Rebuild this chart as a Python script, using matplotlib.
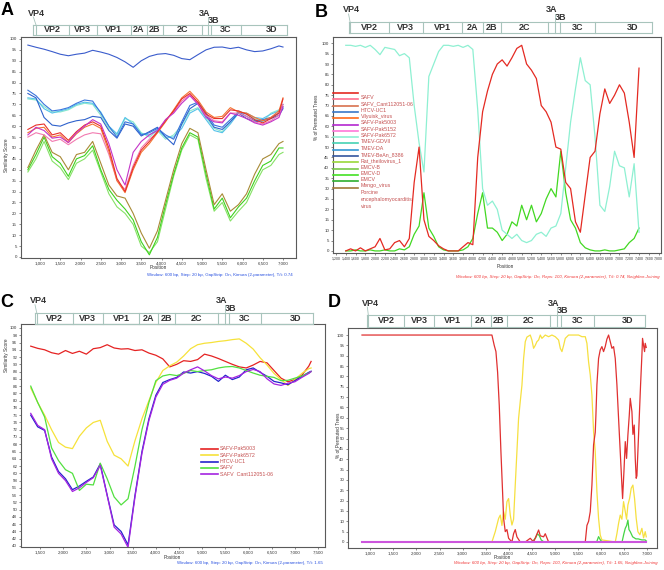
import matplotlib
matplotlib.use('Agg')
import matplotlib.pyplot as plt
from matplotlib import transforms
from matplotlib.lines import Line2D

plt.rcParams['font.family'] = ['Liberation Sans', 'DejaVu Sans']

W, H = 664, 570

# genome map (boundaries in bp along each panel's own x axis)
genes = ['VP4', 'VP2', 'VP3', 'VP1', '2A', '2B', '2C', '3A', '3B', '3C', '3D']
mapA = [835, 901, 1716, 2400, 3247, 3635, 4030, 4993, 5156, 5215, 5956, 7106]
mapB = [1457, 1489, 2279, 2975, 3785, 4202, 4574, 5537, 5673, 5774, 6497, 7663]
mapC = [1392, 1429, 2206, 2853, 3643, 4053, 4414, 5348, 5493, 5586, 6264, 7399]
mapD = [936, 957, 1723, 2388, 3174, 3603, 3961, 4891, 5034, 5120, 5835, 6944]

# ---- A: similarity plot, query vs all strains
posA = [700, 900, 1100, 1300, 1500, 1700, 1900, 2100, 2300, 2500, 2700, 2900, 3100,
        3300, 3500, 3700, 3900, 4100, 4300, 4500, 4700, 4900, 5100, 5300, 5500,
        5700, 5900, 6100, 6300, 6500, 6700, 6900, 7000]
A_top = [97.2, 96.2, 95.3, 94.2, 93, 92.3, 93, 93.5, 94.8, 94, 93, 91.5, 89.5, 87, 90, 92, 93,
         93.3, 92.5, 91, 90.5, 92.8, 95, 96.2, 96.3, 95.6, 96.2, 95, 94.2, 94.5, 95.5, 96.8, 96.3]
A_blue1 = [76.5, 74, 70, 67, 67.5, 68.5, 70.5, 72, 71.5, 66, 60, 55, 62, 61, 56, 57, 59,
           56, 54, 62, 69.5, 71, 66, 60.5, 59.5, 63, 66.5, 64.5, 62.5, 63, 64, 66, 70]
A_cyan1 = [72.5, 72, 69, 66.5, 66.5, 67.5, 69.5, 70.5, 70, 65, 59, 56, 63.5, 62, 57, 55, 58,
           54, 56, 60.5, 67, 68.5, 64, 59, 57.5, 62, 67, 65.5, 63.5, 62, 66, 67.5, 69]
A_blue2 = [75, 73, 64, 60.5, 60, 61.5, 62.5, 63, 64.5, 64, 58, 54.5, 61, 60, 55.5, 57.5, 59.5,
           55, 51.5, 61, 68, 70.5, 65, 59.5, 58.5, 62, 66, 63.5, 62, 62.5, 63.5, 65, 68]
A_cyan2 = [73, 72.5, 68, 66, 67, 68, 70, 71, 70.5, 66.5, 60, 56.5, 64, 61, 56.5, 56, 58.5,
           55, 55, 59, 66, 68, 63, 58, 57, 61, 66, 66, 64, 63.5, 65.5, 67, 68.5]
A_red = [58.5, 60.5, 61, 56, 57, 53.5, 57.5, 60.5, 62, 60, 50, 36, 30, 41, 49, 53, 57.5,
         62.5, 67, 72.5, 75, 71, 65.5, 63.5, 63.5, 67.5, 67, 65.5, 63, 61.5, 63.5, 66, 72.5]
A_orange = [57, 59, 59.5, 55, 56, 52.5, 56.5, 59.5, 61, 59, 48.5, 35, 29.5, 40, 48, 52, 57,
            62, 67.5, 73, 76, 72, 66.5, 64, 64.5, 68.5, 66.5, 66, 64, 62.5, 64, 67, 73]
A_pink = [55, 57, 56, 53, 54, 51.5, 54, 56, 57, 56.5, 47, 35, 31, 42, 50, 54, 57,
          63, 66.5, 71.5, 74.5, 70.5, 65, 62.5, 62, 66, 66, 64.5, 62, 61, 62.5, 65, 70]
A_magenta = [56, 59.5, 58, 54.5, 55, 52.5, 57, 60, 63, 61, 52, 40, 33, 48, 53, 56, 58,
             63, 66, 70.5, 74, 70, 64, 62, 61.5, 66, 65, 63.5, 61.5, 60.5, 62, 64, 69]
A_green1 = [40, 47, 55, 46, 43, 37, 45, 46.5, 51, 40, 31, 26, 22, 17, 7, 1, 9,
            24, 38, 50, 57, 55, 38, 22, 27, 18, 23, 27, 35, 42, 44, 50, 50]
A_green2 = [39, 45, 53, 44, 41, 35.5, 43, 45, 49, 39, 29, 23, 20, 15, 5, 2, 7,
            22, 37, 49, 56, 54, 36, 21, 25, 16.5, 21, 25, 33, 40, 42, 47, 48]
A_olive = [41, 49, 56, 48, 46, 40, 47, 48, 53, 43, 33, 28, 27, 20, 11, 4, 12,
           26, 40, 52, 59, 57, 40, 24, 29, 21, 24, 29, 38, 45, 47, 52, 53]

# ---- B: bootscan, all strains
posB = list(range(1400, 7401, 100))
B_cyan = [99, 99, 98.5, 99, 98, 99, 97, 94.5, 98, 97.5,
          97, 94, 95, 93, 70, 52, 38, 84, 90, 96,
          99, 99, 98.5, 99, 98, 99, 97, 68, 30, 22,
          24, 20, 10, 8, 6, 8, 5, 4, 5, 8,
          9, 7, 11, 12, 18, 40, 62, 78, 93, 82,
          80, 55, 22, 19, 31, 48, 41, 40, 26, 42, 9]
B_red = [0, 1, 0, 1.5, 0, 1, 2, 6, 0.5, 1,
         4, 5, 2, 6, 33, 50, 15, 7, 5, 2.5,
         1, 0, 0, 0, 2, 4, 3, 45, 67, 77,
         85, 90, 92, 89, 93, 97.5, 99, 90, 87, 83,
         70, 67, 62, 50, 49, 33, 30, 14, 9, 27,
         45, 48, 66, 78, 71, 75, 80, 76, 62, 45, 88]
B_green = [0, 0, 0.5, 0, 0, 0.5, 0, 0, 0.5, 0,
           0, 1, 0.5, 2, 8, 12, 28, 11, 7, 2,
           0.5, 0, 0, 0, 0.5, 2, 6, 18, 28, 11,
           11, 9, 5, 8, 14, 12, 22, 15, 22, 14,
           18, 25, 30, 26, 48, 28, 15, 11, 4, 1.5,
           0.5, 0, 0, 0.5, 0, 0, 0.5, 1, 4, 6, 11]
B_names = ['SAFV', 'SAFV_Cant112051-06', 'HTCV-UC1', 'Vilyuisk_virus', 'SAFV-Pak5003',
           'SAFV-Pak5152', 'SAFV-Pak6572', 'TMEV-GDVII', 'TMEV-DA', 'TMEV-BeAn_8386',
           'Rat_theilovirus_1', 'EMCV-B', 'EMCV-D', 'EMCV', 'Mengo_virus',
           'Porcine\nencephalomyocarditis\nvirus']
B_colors = ['#e42a22', '#ff6f8e', '#d8714e', '#3a78c8', '#ff6a1a', '#b428d0', '#ff78d8',
            '#8ef0d2', '#45d2b4', '#3396d6', '#33559e', '#9ad83a', '#78c848', '#44e024',
            '#2eae2e', '#a27838']

# ---- C: similarity plot, SAFV strains
posC = [1300, 1450, 1600, 1750, 1900, 2050, 2200, 2350, 2500, 2650, 2800, 2950, 3100,
        3250, 3400, 3550, 3700, 3850, 4000, 4150, 4300, 4450, 4600, 4750, 4900, 5050,
        5200, 5350, 5500, 5650, 5800, 5950, 6100, 6250, 6400, 6550, 6700, 6850, 7000,
        7150, 7300, 7350]
C_red = [95, 94.4, 94, 93.2, 92.8, 93.8, 93, 93.6, 92.8, 94.3, 94.6, 95.4, 94.5, 94.2,
         94.3, 93.8, 94, 93.1, 92.5, 91.5, 89.3, 90, 91, 90.8, 91.3, 92.8, 92.3, 91.6,
         90.8, 90, 89.3, 89, 89.8, 90.8, 90.4, 88.3, 86.2, 85.2, 85.8, 87, 89.5, 90.8]
C_yellow = [83.5, 79.5, 76, 72, 68.5, 67.2, 66.8, 70.2, 72.5, 74, 74.6, 68.8, 65, 64,
            62, 69, 75, 80, 85, 88.3, 89.6, 90.6, 92.3, 94.3, 95.4, 95.8, 96, 96.3,
            96.5, 96.8, 97, 95.8, 94.2, 91.8, 89.8, 87.5, 85.8, 84.2, 85.8, 87.5, 88.8, 89]
C_blue = [76, 72.8, 71.8, 64.5, 60.5, 58.5, 55.5, 56.5, 57.8, 59, 62.6, 54, 45.8, 44,
          40.3, 54, 66, 75, 81.5, 85, 85.8, 86.4, 87.9, 87.6, 88, 87.5, 86.7, 85.3,
          87, 85.8, 86.5, 88.5, 89, 87.8, 86.7, 85.3, 84.9, 84.4, 85.5, 86.7, 87.8, 88.1]
C_purple = [76.5, 73.2, 72, 64, 60, 58, 55, 56, 57.5, 58.8, 62.2, 53.8, 45.2, 43.3,
            39.6, 53.5, 65.5, 74.5, 81, 84.5, 85.6, 86.2, 87.6, 88.5, 89.3, 88.2, 86.9, 86,
            86.5, 86.2, 86.9, 88, 88.6, 88, 86, 84.6, 84.2, 84.8, 85.2, 86.4, 87.5, 88]
C_green = [84, 79.5, 75.5, 67, 63.5, 61, 60, 55.3, 57, 56.8, 62.8, 58.5, 53.5, 51.3,
           53, 62, 72, 79.5, 85.5, 86.8, 87.2, 86.9, 87.5, 88.3, 88, 88.3, 88.5, 89,
           89.3, 89.4, 89, 88.3, 87.6, 87, 86.7, 86.4, 85.5, 85.6, 86.2, 86.8, 87.6, 88]
C_names = ['SAFV-Pak5003', 'SAFV-Pak6572', 'HTCV-UC1', 'SAFV', 'SAFV  Cant112051-06']
C_colors = ['#e52222', '#f6e23a', '#2424cc', '#52e040', '#a424e0']

# ---- D: bootscan, SAFV strains
D_red_x = [820, 3633, 3683, 3720, 3756, 3792, 3828, 3864, 3886, 3922, 3958, 3994, 4066,
           4102, 4138, 4174, 4246, 4355, 4463, 4535, 4644, 4680, 4752, 4788, 4860, 5654,
           5690, 5726, 5762, 5798, 5834, 5870, 5884, 5906, 5942, 5978, 6014, 6050, 6086,
           6122, 6159, 6195, 6231, 6267, 6303, 6339, 6375, 6411, 6447, 6462, 6491, 6520,
           6548, 6577, 6606, 6628, 6664, 6686, 6714, 6736, 6757, 6772, 6793, 6822, 6851,
           6880, 6894, 6916, 6938, 6952, 6974]
D_red_y = [100, 100, 95, 92, 82, 66, 43.6, 24, 11.4, 5, 6, 1.8, 0,
           4, 6, 2.5, 0, 0, 1.8, 0, 5.8, 3, 2.5, 4, 0, 0,
           8, 10, 14.7, 27.5, 47, 53, 61, 76, 88.7, 92.8, 94.4, 92, 94.4,
           98, 100, 96.8, 93.6, 94.4, 88.7, 76, 59.7, 43.6, 27.5, 21, 34, 48.5,
           40.4, 51.7, 61, 69.4, 63, 52, 56.5, 40.4, 30.8, 32, 43.6, 59.7, 75.8,
           90.3, 98.4, 95, 92, 96, 94]
D_yellow_x = [820, 3633, 3705, 3778, 3814, 3850, 3886, 3922, 3958, 3994, 4030, 4066, 4102,
              4138, 4174, 4210, 4246, 4283, 4319, 4355, 4391, 4463, 4499, 4535, 4571, 4607,
              4644, 4680, 4716, 4788, 4860, 4932, 5004, 5076, 5113, 5149, 5185, 5221, 5293,
              5365, 5509, 5581, 5654, 5690, 5726, 5762, 5798, 5834, 5870, 5906, 5942, 5978,
              6014, 6303, 6339, 6375, 6411, 6447, 6483, 6520, 6548, 6577, 6613, 6649, 6685,
              6721, 6757, 6793, 6836, 6880, 6916, 6952, 6974]
D_yellow_y = [0, 0, 5, 11.4, 13, 8, 14.7, 11, 19.5, 21, 13, 8.2, 11,
              27.5, 43.6, 59.7, 67.8, 75.8, 88.7, 96.8, 99, 100, 97.6, 93.6, 95, 96.8,
              97.6, 100, 98.4, 100, 99.2, 100, 99.2, 97.6, 93.6, 92, 95, 98.4, 100,
              100, 100, 99.2, 99.2, 96, 87, 80.7, 71, 53.3, 43.6, 24.3, 11.4, 3.4,
              1, 0, 4, 9, 13, 11, 19.5, 14.7, 11, 17.9, 21, 26, 27.5,
              21, 11.4, 5, 3.5, 6.6, 2, 5, 2.5]
D_green_x = [820, 4500, 4580, 4620, 4660, 4700, 4760, 5900, 5942, 5980, 6020, 6450, 6490,
             6520, 6550, 6577, 6600, 6628, 6680, 6750, 6800, 6880, 6950, 6974]
D_green_y = [0, 0, 2, 4, 3, 1, 0, 0, 2.6, 1, 0, 0, 4,
             6.6, 8, 10.6, 6, 5, 2.5, 1.5, 1.5, 1, 1, 0.5]
D_flat_x = [820, 6974]
D_flat_y = [0, 0]

footA = 'Window: 600 bp, Step: 20 bp, GapStrip: On, Kimura (2-parameter), T/t: 0.74'
footB = ('Window: 600 bp, Step: 20 bp, GapStrip: On, Reps: 100, Kimura (2-parameter), '
         'T/t: 0.74, Neighbor-Joining')
footC = 'Window: 600 bp, Step: 20 bp, GapStrip: On, Kimura (2-parameter), T/t: 1.65'
footD = ('Window: 600 bp, Step: 20 bp, GapStrip: On, Reps: 100, Kimura (2-parameter), '
         'T/t: 1.65, Neighbor-Joining')


def fx(px):
    return px / W


def fy(py):
    return 1 - py / H


def new_axes(fig, left, top, right, bottom):
    return fig.add_axes([fx(left), fy(bottom), (right - left) / W, (bottom - top) / H])


def style(ax, xlim, ylim, xticks, yticks, xsize=3.2):
    ax.set_xlim(*xlim)
    ax.set_ylim(*ylim)
    ax.set_xticks(xticks)
    ax.set_xticklabels([f'{t:,}' for t in xticks])
    ax.set_yticks(yticks)
    ax.set_yticklabels([str(t) for t in yticks])
    ax.tick_params(labelsize=3.2, length=1.5, width=0.4, pad=1.2, colors='#333333')
    ax.tick_params(axis='x', labelsize=xsize)
    for s in ax.spines.values():
        s.set_linewidth(0.8)
        s.set_color('#5a5a5a')


def draw_map(fig, ax, b, top, bottom):
    tr = transforms.blended_transform_factory(ax.transData, fig.transFigure)
    yt, yb = fy(top), fy(bottom)
    lc = '#a8c4bc'
    for y in (yt, yb):
        fig.add_artist(Line2D([b[0], b[-1]], [y, y], transform=tr, color=lc, lw=0.8))
    for x in b:
        fig.add_artist(Line2D([x, x], [yt, yb], transform=tr, color=lc, lw=0.8))
    kw = dict(transform=tr, fontsize=6.5, fontweight='bold', color='#333333', va='center')
    ym = (yt + yb) / 2
    for i, g in enumerate(genes):
        lo, hi = b[i], b[i + 1]
        if g == 'VP4':
            trv = transforms.offset_copy(tr, fig=fig, x=3, units='dots')
            ax.text(lo, fy(top - 12), g, ha='center', **dict(kw, transform=trv))
            fig.add_artist(Line2D([lo, hi], [fy(top - 8), yt], transform=tr, color=lc, lw=0.6))
        elif g == '3A':
            ax.text((lo + hi) / 2, fy(top - 12), g, ha='center', **kw)
            fig.add_artist(Line2D([hi, hi], [fy(top - 8), yt], transform=tr, color=lc, lw=0.6))
        elif g == '3B':
            ax.text(lo, fy(top - 4.5), g, ha='left', **kw)
        elif g == '3D':
            ax.text(lo + 0.67 * (hi - lo), ym, g, ha='center', **kw)
        else:
            ax.text((lo + hi) / 2, ym, g, ha='center', **kw)


fig = plt.figure(figsize=(W / 100, H / 100), dpi=100)

# ---------------- A
axA = new_axes(fig, 20.7, 37, 296, 258)
for ys, c in [(A_green2, '#86e266'), (A_green1, '#3ed21e'), (A_olive, '#a88a36'),
              (A_cyan1, '#8ae8cc'), (A_cyan2, '#55c2ea'), (A_blue2, '#2f62cc'),
              (A_blue1, '#3a74dc'), (A_pink, '#f27ab0'), (A_orange, '#f47432'),
              (A_red, '#e8302a'), (A_magenta, '#c434c8'), (A_top, '#3a5ccc')]:
    axA.plot(posA, ys, color=c, lw=0.8)
style(axA, (523, 7321), (-0.46, 100.9), list(range(1000, 7001, 500)), list(range(0, 101, 5)))
draw_map(fig, axA, mapA, 25, 35)

# ---------------- B
axB = new_axes(fig, 333, 37, 661, 253)
axB.plot(posB, B_green, color='#42d822', lw=0.9)
axB.plot(posB, B_cyan, color='#8ef0d2', lw=0.9)
axB.plot(posB, B_red, color='#e42a22', lw=0.9)
style(axB, (1139, 7850), (-1, 103), list(range(1200, 7801, 200)), list(range(0, 101, 5)),
      xsize=2.5)
draw_map(fig, axB, mapB, 22, 33)
row = 93
for name, c in zip(B_names, B_colors):
    fig.add_artist(Line2D([fx(333), fx(358)], [fy(row), fy(row)], color=c, lw=1.2))
    fig.text(fx(361), fy(row + 2.2), name, fontsize=3.8, color='#c45050', va='top',
             linespacing=1.55)
    row += 6.3

# ---------------- C
axC = new_axes(fig, 21, 324, 325, 547)
for ys, c in zip([C_red, C_yellow, C_blue, C_green, C_purple], C_colors):
    axC.plot(posC, ys, color=c, lw=0.9)
style(axC, (1090, 7650), (39.72, 101.1), list(range(1500, 7501, 500)), list(range(40, 101, 2)))
draw_map(fig, axC, mapC, 312.7, 324.3)
row = 449
for name, c in zip(C_names, C_colors):
    fig.add_artist(Line2D([fx(201), fx(218)], [fy(row), fy(row)], color=c, lw=1.2))
    fig.text(fx(220), fy(row), name, fontsize=3.8, color='#c45050', va='center')
    row += 6.3

# ---------------- D
axD = new_axes(fig, 348, 328, 657, 548)
axD.plot(D_yellow_x, D_yellow_y, color='#f6e040', lw=0.9)
axD.plot(D_green_x, D_green_y, color='#44d444', lw=0.9)
axD.plot(D_red_x, D_red_y, color='#e03030', lw=0.9)
axD.plot(D_flat_x, D_flat_y, color='#cc55dd', lw=1.5)
style(axD, (517, 7207), (-2.9, 103.4), list(range(1000, 7001, 500)), list(range(0, 101, 5)))
draw_map(fig, axD, mapD, 315, 326.7)

# axis titles, footers, panel letters
small = dict(fontsize=3.4, color='#333333')
fig.text(fx(158), fy(267.5), 'Position', ha='center', va='center', **small)
fig.text(fx(505), fy(267), 'Position', ha='center', va='center', **small)
fig.text(fx(172), fy(557.5), 'Position', ha='center', va='center', **small)
fig.text(fx(502), fy(557.5), 'Position', ha='center', va='center', **small)
fig.text(fx(7), fy(155), 'Similarity Score', rotation=90, ha='center', va='center', **small)
fig.text(fx(317), fy(117), '% of Permuted Trees', rotation=90, ha='center', va='center', **small)
fig.text(fx(7), fy(355), 'Similarity Score', rotation=90, ha='center', va='center', **small)
fig.text(fx(338), fy(435), '% of Permuted Trees', rotation=90, ha='center', va='center', **small)

fig.text(fx(293), fy(275), footA, ha='right', va='center', fontsize=3.15, color='#2a52e0')
fig.text(fx(659), fy(277), footB, ha='right', va='center', fontsize=3.15, color='#f03434',
         style='italic')
fig.text(fx(323), fy(563), footC, ha='right', va='center', fontsize=3.15, color='#2a52e0')
fig.text(fx(657), fy(563), footD, ha='right', va='center', fontsize=3.15, color='#f03434',
         style='italic')

for letter, px, py in [('A', 1, 2), ('B', 315, 4), ('C', 0, 294), ('D', 328, 294)]:
    fig.text(fx(px), fy(py), letter, fontsize=13, fontweight='bold', va='top', ha='left')

fig.savefig('out.png', dpi=100)
